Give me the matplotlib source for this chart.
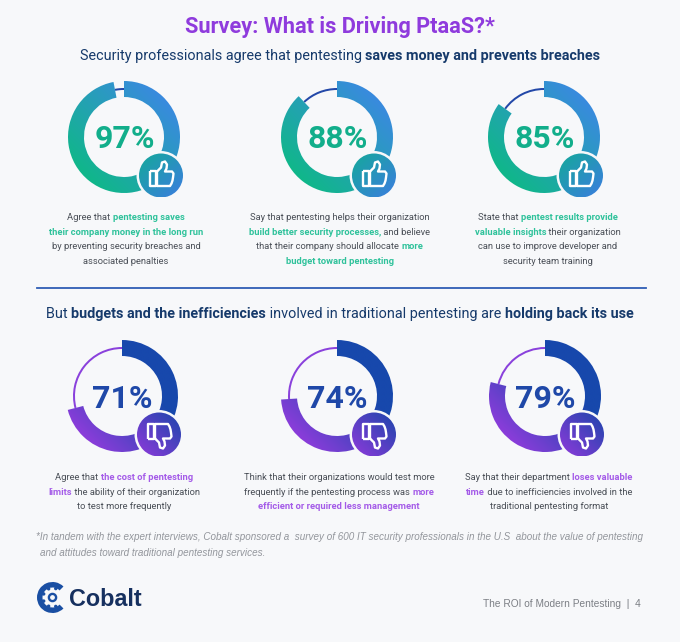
import numpy as np
import matplotlib
matplotlib.use("Agg")
import matplotlib.pyplot as plt
from matplotlib.patches import Wedge, Circle, PathPatch
from matplotlib.path import Path
from matplotlib.colors import LinearSegmentedColormap

pos_values = [97, 88, 85]
neg_values = [71, 74, 79]

BG = "#F7F8FA"; NAVY = "#163A6B"; GREY = "#4A4F57"; GREEN = "#2FC29B"; PURP = "#A45BE8"
TEAL = "#12AE8B"; BLUE2 = "#1F48A8"

pos_text = [
 [[("Agree that ",GREY,0),("pentesting saves",GREEN,1)],
  [("their company money in the long run",GREEN,1)],
  [("by preventing security breaches and",GREY,0)],
  [("associated penalties",GREY,0)]],
 [[("Say that pentesting helps their organization",GREY,0)],
  [("build better security processes,",GREEN,1),(" and believe",GREY,0)],
  [("that their company should allocate ",GREY,0),("more",GREEN,1)],
  [("budget toward pentesting",GREEN,1)]],
 [[("State that ",GREY,0),("pentest results provide",GREEN,1)],
  [("valuable insights",GREEN,1),(" their organization",GREY,0)],
  [("can use to improve developer and",GREY,0)],
  [("security team training",GREY,0)]],
]
neg_text = [
 [[("Agree that ",GREY,0),("the cost of pentesting",PURP,1)],
  [("limits",PURP,1),(" the ability of their organization",GREY,0)],
  [("to test more frequently",GREY,0)]],
 [[("Think that their organizations would test more",GREY,0)],
  [("frequently if the pentesting process was ",GREY,0),("more",PURP,1)],
  [("efficient or required less management",PURP,1)]],
 [[("Say that their department ",GREY,0),("loses valuable",PURP,1)],
  [("time",PURP,1),(" due to inefficiencies involved in the",GREY,0)],
  [("traditional pentesting format",GREY,0)]],
]

fig = plt.figure(figsize=(6.8, 6.42), dpi=100, facecolor=BG)
ax = fig.add_axes([0, 0, 1, 1])
ax.set_xlim(0, 680); ax.set_ylim(642, 0); ax.axis("off")
rend = fig.canvas.get_renderer()

def rich(cx, y, segs, size, family="Roboto"):
    arts = []
    for s, c, b in segs:
        arts.append(ax.text(0, y, s.replace(" ", "\u00a0"), fontsize=size, family=family, color=c,
                            fontweight="bold" if b else "normal", va="baseline", ha="left"))
    w = [a.get_window_extent(rend).width for a in arts]
    x = cx - sum(w) / 2
    for a, wi in zip(arts, w):
        a.set_x(x); x += wi

def gradient(c0, c1, x0, y0, size, clip, z=2, stops=(0.0, 1.0), mirror=False):
    n = 128
    u, v = np.meshgrid(np.linspace(0, 1, n), np.linspace(0, 1, n))
    g = (u + v) / 2 if mirror else (1 - u + v) / 2
    g = np.clip((g - stops[0]) / (stops[1] - stops[0]), 0, 1)
    cm = LinearSegmentedColormap.from_list("g", [c0, c1])
    im = ax.imshow(g, extent=(x0, x0 + size, y0 + size, y0), cmap=cm, vmin=0, vmax=1,
                   zorder=z, aspect="auto", interpolation="bilinear")
    im.set_clip_path(clip)

def thumb(cx, cy, flip):
    s = -1 if flip else 1
    P = lambda pts: [(cx + x, cy + s * y) for x, y in pts]
    hand = [(-4,-4),(0,-8),(1,-13),(4,-14),(6,-11),(5.5,-7),(4,-4),(11,-4),(12.5,-2),(12,2),(11.5,5),(10.5,8),(9,10.5),(-4,10.5),(-4,-4)]
    cuff = [(-11.5,-4.5),(-5.5,-4.5),(-5.5,10.5),(-11.5,10.5),(-11.5,-4.5)]
    for pts in (hand, cuff):
        ax.add_patch(PathPatch(Path(P(pts)), fc="none", ec="white", lw=1.7, zorder=6, joinstyle="round"))

def donut(cx, cy, v, c0, c1, arc, b0, b1, lab, flip, stops, mirror):
    end = -90 + 360 * v / 100
    ax.add_patch(Wedge((cx, cy), 49, end, 270, width=2.0, fc=arc, ec="none", zorder=1))
    w = Wedge((cx, cy), 56, -90, end, width=16, fc="none", ec="none", zorder=1)
    ax.add_patch(w)
    gradient(c0, c1, cx - 56, cy - 56, 112, w, stops=stops)
    ax.text(cx + 0.5, cy + 11.5, f"{v}%", fontsize=23, family="Roboto", fontweight="bold", color=lab,
            ha="center", va="baseline", zorder=5)
    bx, by = cx + 37, cy + 38.5
    ax.add_patch(Circle((bx, by), 24.5, fc=BG, ec="none", zorder=3))
    c = Circle((bx, by), 22, fc="none", ec="none", zorder=3)
    ax.add_patch(c)
    gradient(b0, b1, bx - 22, by - 22, 44, c, z=4, mirror=mirror)
    thumb(bx, by, flip)

top_cx = [124, 337, 544]
bot_cx = [122, 337, 545]
top_tx = [126, 339.5, 548]
bot_tx = [124, 339, 549]
for cx, tx, v, t in zip(top_cx, top_tx, pos_values, pos_text):
    donut(cx, 137, v, "#3F84EA", "#10B78A", "#2348A8", "#14A99A", "#3C7DE0", TEAL, False, (0.05, 0.85), True)
    for i, l in enumerate(t):
        rich(tx, 220 + 14.6 * i, l, 6.72)
for cx, tx, v, t in zip(bot_cx, bot_tx, neg_values, neg_text):
    donut(cx, 396, v, "#1748AC", "#9A3BE0", "#8A41DC", "#1B46AB", "#8F3ADB", BLUE2, True, (0.35, 0.92), False)
    for i, l in enumerate(t):
        rich(tx, 480 + 14.6 * i, l, 6.72)

ax.text(340, 33, "Survey: What is Driving PtaaS?*", fontsize=15.7, family="Roboto", fontweight="bold",
        color="#8F3BDD", ha="center", va="baseline")
rich(340, 60, [("Security professionals agree that pentesting ",NAVY,0),("saves money and prevents breaches",NAVY,1)], 10.37)
rich(340, 318, [("But ",NAVY,0),("budgets and the inefficiencies",NAVY,1),(" involved in traditional pentesting are ",NAVY,0),("holding back its use",NAVY,1)], 10.37)
ax.plot([37, 646], [288, 288], color="#2F5DB5", lw=1.3, zorder=1)

FOOT = "#93969C"
ax.text(36, 540, "*In tandem with the expert interviews, Cobalt sponsored a  survey of 600 IT security professionals in the U.S  about the value of pentesting".replace(" ", "\u00a0"),
        fontsize=7.08, family="Liberation Sans", style="italic", color=FOOT, va="baseline")
ax.text(40, 556, "and attitudes toward traditional pentesting services.".replace(" ", "\u00a0"),
        fontsize=7.08, family="Liberation Sans", style="italic", color=FOOT, va="baseline")
ax.text(641, 607, "The ROI of Modern Pentesting  |  4".replace(" ", "\u00a0"), fontsize=7.3, family="Liberation Sans",
        color="#7C7F85", ha="right", va="baseline")

# logo
LOGO = "#1A4FA3"
ax.add_patch(Wedge((52.5, 597.5), 15.5, 45, 315, width=5.5, fc=LOGO, ec="none", zorder=2))
for a in np.deg2rad(np.arange(70, 320, 44)):
    ax.add_patch(Circle((52.5 + 9.5 * np.cos(a), 597.5 + 9.5 * np.sin(a)), 1.7, fc=LOGO, ec="none", zorder=2))
ax.add_patch(Circle((52.5, 597.5), 3.6, fc="none", ec=LOGO, lw=1.7, zorder=2))
ax.text(69, 605.5, "Cobalt", fontsize=16.8, family="Liberation Sans", fontweight="bold", color="#16305F", va="baseline")

ax.set_xlim(0, 680); ax.set_ylim(642, 0)
fig.savefig("out.png", dpi=100, facecolor=BG)
